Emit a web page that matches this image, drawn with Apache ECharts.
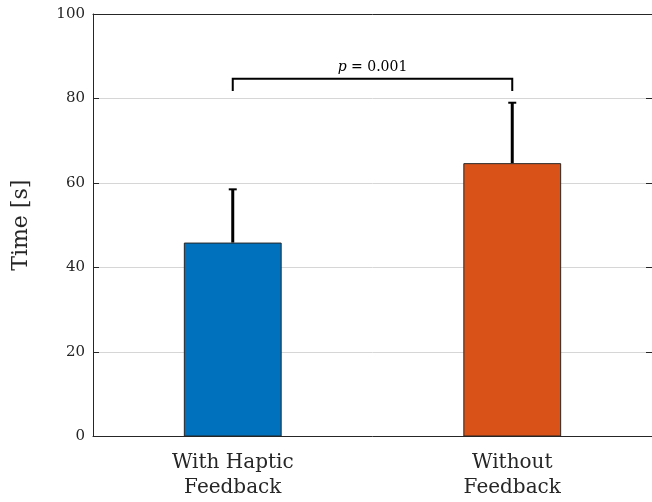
<!DOCTYPE html>
<html><head><meta charset="utf-8">
<script src="https://cdn.jsdelivr.net/npm/echarts@6/dist/echarts.min.js"></script>
<style>html,body{margin:0;padding:0;background:#fff}#c{width:652px;height:502px}</style>
</head><body><div id="c"></div>
<script>
const categories = ['With Haptic\nFeedback', 'Without\nFeedback'];
const means = [45.9, 64.7];
const upperErr = [58.5, 79.0];
const barColors = ['#0072BD', '#D95319'];
const yTicks = [0, 20, 40, 60, 80, 100];
const bracket = { from: 0, to: 1, legBottom: 81.8, top: 84.7, label: 'p = 0.001' };

const FONT = 'DejaVu Serif, Liberation Serif, serif';
const chart = echarts.init(document.getElementById('c'), null, {renderer: 'canvas'});
chart.setOption({
  animation: false,
  backgroundColor: '#fff',
  grid: {left: 93, right: 0, top: 14, bottom: 65.5, containLabel: false},
  xAxis: [{
    type: 'category', data: categories, position: 'bottom',
    axisLine: {show: true, onZero: false, lineStyle: {color: '#262626', width: 1}},
    axisTick: {show: false},
    axisLabel: {fontFamily: FONT, fontSize: 20, color: '#262626', lineHeight: 25, margin: 14},
    splitLine: {show: false}
  }, {
    type: 'category', data: categories, position: 'top',
    axisLine: {show: true, onZero: false, lineStyle: {color: '#262626', width: 1}},
    axisTick: {show: false}, axisLabel: {show: false}
  }],
  yAxis: [{
    type: 'value', min: 0, max: 100, interval: 20,
    name: 'Time [s]', nameLocation: 'middle', nameGap: 61,
    nameTextStyle: {fontFamily: FONT, fontSize: 22, color: '#262626'},
    axisLine: {show: true, onZero: false, lineStyle: {color: '#262626', width: 1}},
    axisTick: {show: true, inside: true, length: 6, lineStyle: {color: '#262626'}},
    axisLabel: {fontFamily: FONT, fontSize: 15, color: '#262626', margin: 8,
      formatter: v => yTicks.includes(v) ? String(v) : ''},
    splitLine: {show: true, lineStyle: {color: '#d6d6d6', width: 1}}
  }, {
    type: 'value', min: 0, max: 100, interval: 20, position: 'right',
    axisLine: {show: true, onZero: false, lineStyle: {color: '#262626', width: 1}},
    axisTick: {show: true, inside: true, length: 6, lineStyle: {color: '#262626'}},
    axisLabel: {show: false}, splitLine: {show: false}
  }],
  series: [{
    type: 'bar', barWidth: '35%',
    data: means.map((v, i) => ({value: v, itemStyle: {color: barColors[i]}})),
    itemStyle: {borderColor: '#262626', borderWidth: 1}
  }, {
    type: 'custom',
    data: means.map((m, i) => [i, m, upperErr[i]]),
    renderItem: (params, api) => {
      const lo = api.coord([api.value(0), api.value(1)]);
      const hi = api.coord([api.value(0), api.value(2)]);
      return {type: 'group', children: [
        {type: 'line', shape: {x1: lo[0], y1: lo[1], x2: hi[0], y2: hi[1]}, style: {stroke: '#000', lineWidth: 3}},
        {type: 'line', shape: {x1: hi[0] - 4, y1: hi[1], x2: hi[0] + 4, y2: hi[1]}, style: {stroke: '#000', lineWidth: 2}}
      ]};
    },
    z: 5
  }, {
    type: 'custom',
    data: [[bracket.from, bracket.to, bracket.legBottom, bracket.top]],
    renderItem: (params, api) => {
      const a = api.coord([api.value(0), api.value(2)]);
      const b = api.coord([api.value(0), api.value(3)]);
      const c = api.coord([api.value(1), api.value(3)]);
      const d = api.coord([api.value(1), api.value(2)]);
      return {type: 'group', children: [
        {type: 'polyline', shape: {points: [a, b, c, d]}, style: {stroke: '#000', lineWidth: 2, fill: null}},
        {type: 'text', x: (b[0] + c[0]) / 2, y: b[1] - 4,
          style: {text: '{i|p} = 0.001', rich: {i: {fontStyle: 'italic', fontFamily: FONT, fontSize: 14}},
            fontFamily: FONT, fontSize: 14, fill: '#000', align: 'center', verticalAlign: 'bottom'}}
      ]};
    },
    z: 6
  }]
});
</script></body></html>
